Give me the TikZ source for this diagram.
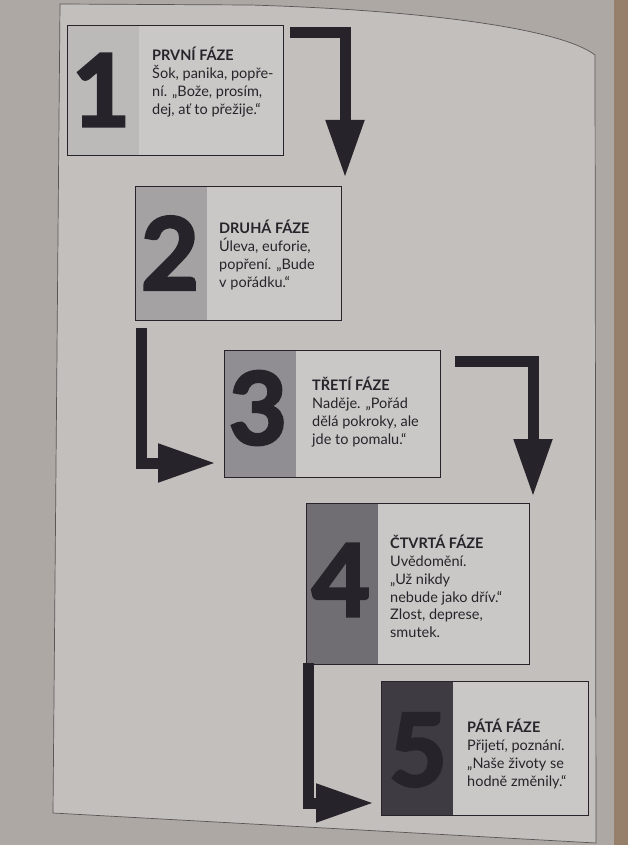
\documentclass[tikz,border=0pt]{standalone}
\usepackage{fontspec}
\setmainfont{Lato}
\newfontfamily\numfont{Lato}[BoldFeatures={FakeBold=3}]
\usepackage{tikz}
\usetikzlibrary{arrows.meta}

\definecolor{outside}{RGB}{174,168,164}
\definecolor{bookedge}{RGB}{150,128,108}
\definecolor{paper}{RGB}{194,191,189}
\definecolor{edgeline}{RGB}{90,86,86}
\definecolor{boxfill}{RGB}{202,200,198}
\definecolor{ink}{RGB}{38,36,42}
\definecolor{shadeA}{RGB}{188,186,185}
\definecolor{shadeB}{RGB}{164,162,163}
\definecolor{shadeC}{RGB}{144,142,146}
\definecolor{shadeD}{RGB}{112,110,115}
\definecolor{shadeE}{RGB}{62,60,66}

\begin{document}
\begin{tikzpicture}[x=1pt, y=-1pt,
	phasebox/.style={rectangle, draw=ink, fill=boxfill, line width=0.9pt, anchor=north west, inner sep=0pt,
		path picture={\fill[#1] (path picture bounding box.north west) rectangle ([xshift=72pt]path picture bounding box.south west);}},
	phasenum/.style={text=ink, inner sep=0pt, font=\fontsize{100}{100}\numfont\bfseries},
	phasetext/.style={text=ink, anchor=north west, inner sep=0pt, align=left, font=\fontsize{14.5}{17.8}\selectfont},
	flow/.style={draw=ink, line width=11pt, line join=miter, -{Triangle[width=36pt, length=58pt]}},
	]
	\useasboundingbox (0,0) rectangle (628,845);
	\fill[outside] (0,0) rectangle (628,845);
	\fill[bookedge] (614,0) rectangle (628,845);
	\filldraw[fill=paper, draw=edgeline, line width=0.7pt] (60,4) -- (250,5) .. controls (420,10) and (560,28) .. (595,55) -- (596,843) -- (53,813) -- cycle;

	\node[phasebox=shadeA, minimum width=216pt, minimum height=130pt] at (67,25) (box1) {};
	\node[phasebox=shadeB, minimum width=206pt, minimum height=134pt] at (135,186) (box2) {};
	\node[phasebox=shadeC, minimum width=216pt, minimum height=127pt] at (224,350) (box3) {};
	\node[phasebox=shadeD, minimum width=223pt, minimum height=161pt] at (306,503) (box4) {};
	\node[phasebox=shadeE, minimum width=207pt, minimum height=134pt] at (381,681) (box5) {};

	\node[phasenum] at (101,90) (num1) {1};
	\node[phasenum] at (170,253) (num2) {2};
	\node[phasenum] at (258,408) (num3) {3};
	\node[phasenum] at (341,580) (num4) {4};
	\node[phasenum] at (418,750) (num5) {5};

	\node[phasetext] at (152,47) (text1) {\textbf{PRVNÍ FÁZE}\\Šok, panika, popře-\\ní. „Bože, prosím,\\dej, ať to přežije.“};
	\node[phasetext] at (219,220) (text2) {\textbf{DRUHÁ FÁZE}\\Úleva, euforie,\\popření. „Bude\\v pořádku.“};
	\node[phasetext] at (312,377) (text3) {\textbf{TŘETÍ FÁZE}\\Naděje. „Pořád\\dělá pokroky, ale\\jde to pomalu.“};
	\node[phasetext] at (390,535) (text4) {\textbf{ČTVRTÁ FÁZE}\\Uvědomění.\\„Už nikdy\\nebude jako dřív.“\\Zlost, deprese,\\smutek.};
	\node[phasetext] at (467,719) (text5) {\textbf{PÁTÁ FÁZE}\\Přijetí, poznání.\\„Naše životy se\\hodně změnily.“};

	\coordinate (from1) at (290,33);
	\coordinate (to2) at (345,178);
	\coordinate (from2) at (141,328);
	\coordinate (to3) at (216,463);
	\coordinate (from3) at (455,361);
	\coordinate (to4) at (533,497);
	\coordinate (from4) at (308,663);
	\coordinate (to5) at (374,803);

	\draw[flow] (from1) -| (to2);
	\draw[flow] (from2) |- (to3);
	\draw[flow] (from3) -| (to4);
	\draw[flow] (from4) |- (to5);
\end{tikzpicture}
\end{document}
